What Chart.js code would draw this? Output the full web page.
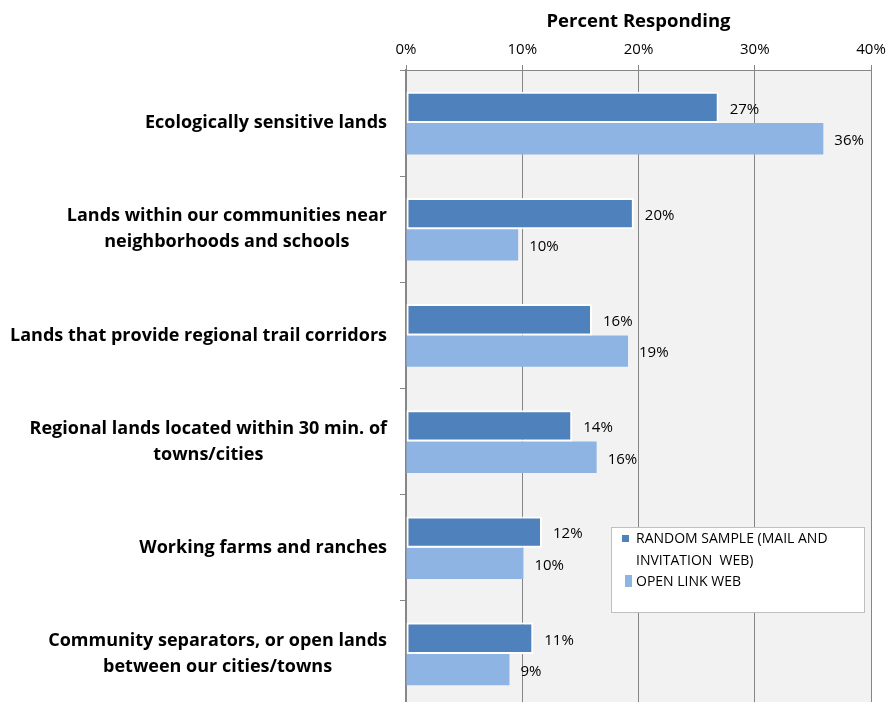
<!DOCTYPE html>
<html>
<head>
<meta charset="utf-8">
<script src="https://cdn.jsdelivr.net/npm/chart.js@4.4.1/dist/chart.umd.min.js"></script>
<style>
  html, body { margin: 0; padding: 0; background: #fff; overflow: hidden; }
  #wrap { width: 887px; height: 710px; position: relative; }
</style>
</head>
<body>
<div id="wrap"><canvas id="myChart"></canvas></div>
<script>
// survey categories (multi-line labels as arrays)
var categories = [
  ["Ecologically sensitive lands"],
  ["Lands within our communities near", "neighborhoods and schools"],
  ["Lands that provide regional trail corridors"],
  ["Regional lands located within 30 min. of", "towns/cities"],
  ["Working farms and ranches"],
  ["Community separators, or open lands", "between our cities/towns"]
];
var seriesNames = ["RANDOM SAMPLE (MAIL AND INVITATION  WEB)", "OPEN LINK WEB"];
var randomSample = [26.9, 19.6, 16.0, 14.3, 11.7, 10.95];
var openLink = [35.9, 9.65, 19.1, 16.4, 10.1, 8.9];
var xTicks = [0, 10, 20, 30, 40];

var FONT = "'Open Sans', Lato, sans-serif";
var GRID = '#868686';

// gray plot area
var plotBg = {
  id: 'plotBg',
  beforeDraw: function(chart) {
    var a = chart.chartArea, ctx = chart.ctx;
    ctx.save();
    ctx.fillStyle = '#f2f2f2';
    ctx.fillRect(a.left, a.top, a.right - a.left, a.bottom - a.top);
    ctx.restore();
  }
};

// category labels: block right aligned, lines centered within the block
var catLabels = {
  id: 'catLabels',
  afterDraw: function(chart) {
    var ctx = chart.ctx, y = chart.scales.y;
    var rightEdge = 387, lh = 26;
    ctx.save();
    ctx.font = "bold 18px " + FONT;
    ctx.fillStyle = '#000';
    ctx.textAlign = 'center';
    ctx.textBaseline = 'middle';
    categories.forEach(function(lines, i) {
      var w = 0;
      lines.forEach(function(l) { w = Math.max(w, ctx.measureText(l).width); });
      var cy = y.getPixelForValue(i) - (lines.length - 1) * lh / 2;
      lines.forEach(function(l, j) {
        ctx.fillText(l, rightEdge - w / 2, cy + j * lh);
      });
    });
    ctx.restore();
  }
};

// value labels at bar ends
var valueLabels = {
  id: 'valueLabels',
  afterDatasetsDraw: function(chart) {
    var ctx = chart.ctx;
    ctx.save();
    ctx.font = "15px " + FONT;
    ctx.fillStyle = '#000';
    ctx.textAlign = 'left';
    ctx.textBaseline = 'middle';
    chart.data.datasets.forEach(function(ds, di) {
      chart.getDatasetMeta(di).data.forEach(function(bar, i) {
        ctx.fillText(Math.round(ds.data[i]) + '%', bar.x + 11, bar.y + 2);
      });
    });
    ctx.restore();
  }
};

// legend box inside the plot
var boxLegend = {
  id: 'boxLegend',
  afterDraw: function(chart) {
    var ctx = chart.ctx;
    var bx = 611, by = 527, bw = 253, bh = 85;
    ctx.save();
    ctx.fillStyle = '#fff';
    ctx.fillRect(bx, by, bw, bh);
    ctx.strokeStyle = '#bfbfbf';
    ctx.lineWidth = 1;
    ctx.strokeRect(bx + 0.5, by + 0.5, bw, bh);
    ctx.fillStyle = chart.data.datasets[0].backgroundColor;
    ctx.fillRect(622, 535, 7, 7);
    ctx.fillStyle = chart.data.datasets[1].backgroundColor;
    ctx.fillRect(625, 575, 7, 12);
    ctx.fillStyle = '#000';
    ctx.font = "14px " + FONT;
    ctx.textBaseline = 'middle';
    ctx.fillText("RANDOM SAMPLE (MAIL AND", 636, 539);
    ctx.fillText("INVITATION  WEB)", 636, 561);
    ctx.fillText(seriesNames[1], 636, 582);
    ctx.restore();
  }
};

var ctx = document.getElementById('myChart').getContext('2d');
var chart = new Chart(ctx, {
  type: 'bar',
  data: {
    labels: categories.map(function(c) { return c.join(' '); }),
    datasets: [{
      label: seriesNames[0],
      data: randomSample,
      backgroundColor: '#4f81bd',
      borderColor: '#ffffff',
      borderWidth: 2,
      borderSkipped: false,
      barPercentage: 1,
      categoryPercentage: 0.59
    }, {
      label: seriesNames[1],
      data: openLink,
      backgroundColor: '#8eb4e3',
      borderWidth: 0,
      barPercentage: 1,
      categoryPercentage: 0.59
    }]
  },
  options: {
    indexAxis: 'y',
    responsive: true,
    maintainAspectRatio: false,
    animation: false,
    layout: { padding: { left: 0, right: 16, top: 0, bottom: 3 } },
    plugins: {
      legend: { display: false },
      tooltip: { enabled: false }
    },
    scales: {
      x: {
        position: 'top',
        min: 0,
        max: 40,
        afterFit: function(scale) {
          scale.height = 70;
          scale.paddingLeft = 0;
          scale.paddingRight = 0;
        },
        afterBuildTicks: function(scale) {
          scale.ticks = xTicks.map(function(v) { return { value: v }; });
        },
        ticks: {
          color: '#000',
          font: { family: FONT, size: 15 },
          padding: 6,
          callback: function(v) { return v + '%'; }
        },
        grid: { color: GRID, lineWidth: 1, tickLength: 5, drawOnChartArea: true },
        border: { display: true, color: GRID, width: 1 },
        title: {
          display: true,
          text: 'Percent Responding',
          color: '#000',
          font: { family: FONT, size: 18.5, weight: 'bold' },
          padding: { top: 11, bottom: 0 }
        }
      },
      y: {
        position: 'left',
        afterFit: function(scale) { scale.width = 406; },
        ticks: { display: false },
        grid: { color: GRID, drawOnChartArea: false, tickLength: 6, offset: true },
        border: { display: true, color: GRID, width: 2 }
      }
    }
  },
  plugins: [plotBg, catLabels, valueLabels, boxLegend]
});
</script>
</body>
</html>
